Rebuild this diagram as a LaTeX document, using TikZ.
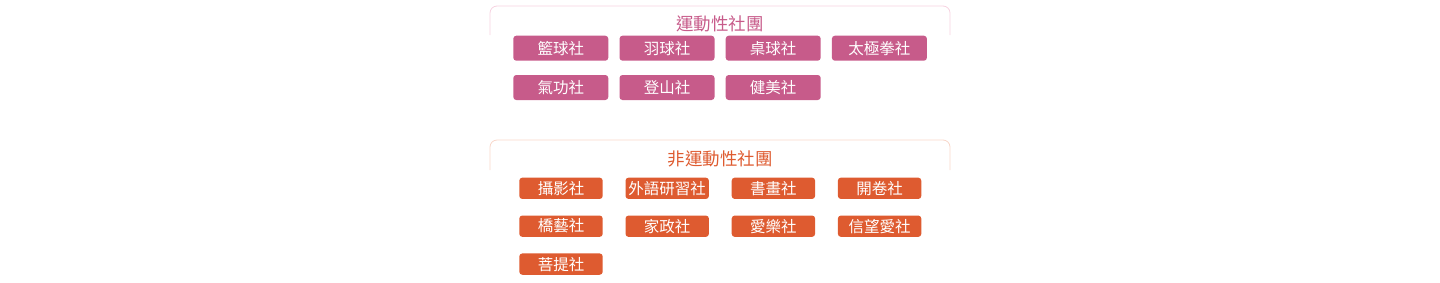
\documentclass[tikz,border=0pt]{standalone}
\usepackage{fontspec}
\newfontfamily\cjk{Noto Sans CJK TC}
\usetikzlibrary{positioning}
\definecolor{rose}{RGB}{199,91,138}
\definecolor{roseline}{RGB}{246,210,224}
\definecolor{rust}{RGB}{222,91,48}
\definecolor{rustline}{RGB}{248,214,200}

\begin{document}
\begin{tikzpicture}[x=1pt, y=-1pt,
        node distance=14.3pt and 11.2pt,
        frame/.style={line width=0.8pt, rounded corners=7pt},
        title/.style={font=\cjk\fontsize{17.5}{20}\selectfont},
        club/.style={rounded corners=3pt, inner sep=0pt, outer sep=0pt, text=white, font=\cjk\fontsize{15.5}{18}\selectfont},
        sport/.style={club, fill=rose, minimum width=95pt, minimum height=25pt},
        other/.style={club, fill=rust, minimum width=83.4pt, minimum height=21.3pt},
      ]
      \useasboundingbox (0,0) rectangle (1440,282);
      % sports clubs
      \draw[roseline, frame] (490,35) -- (490,6) -- (950,6) -- (950,35);
      \node[title, text=rose] (sporttitle) at (720,24) {運動性社團};
      \node[sport] (s1) at (560.8,48.2) {籃球社};
      \node[sport] (s2) [right=of s1] {羽球社};
      \node[sport] (s3) [right=of s2] {桌球社};
      \node[sport] (s4) [right=of s3] {太極拳社};
      \node[sport] (s5) [below=of s1] {氣功社};
      \node[sport] (s6) [right=of s5] {登山社};
      \node[sport] (s7) [right=of s6] {健美社};
      % other clubs
      \draw[rustline, frame] (490,170) -- (490,140) -- (950,140) -- (950,170);
      \node[title, text=rust] (othertitle) at (720,159) {非運動性社團};
      \node[other] (o1) at (561,188.3) {攝影社};
      \node[other] (o2) [right=22.8pt of o1] {外語研習社};
      \node[other] (o3) [right=22.8pt of o2] {書畫社};
      \node[other] (o4) [right=22.8pt of o3] {開卷社};
      \node[other] (o5) [below=16.6pt of o1] {橋藝社};
      \node[other] (o6) [right=22.8pt of o5] {家政社};
      \node[other] (o7) [right=22.8pt of o6] {愛樂社};
      \node[other] (o8) [right=22.8pt of o7] {信望愛社};
      \node[other] (o9) [below=16.6pt of o5] {菩提社};
    \end{tikzpicture}
\end{document}
